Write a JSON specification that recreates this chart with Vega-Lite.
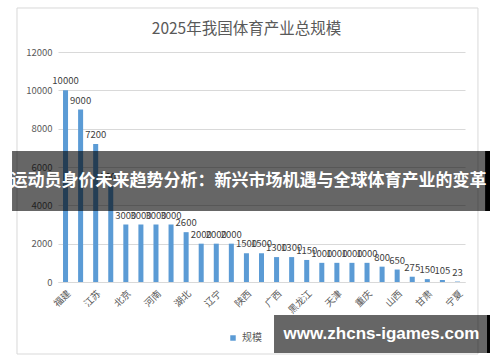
{
  "$schema": "https://vega.github.io/schema/vega-lite/v6.json",
  "width": 407,
  "height": 230,
  "autosize": "none",
  "padding": {"left": 58, "top": 52, "right": 35, "bottom": 80},
  "background": "white",
  "title": {
    "text": "2025年我国体育产业总规模",
    "fontSize": 15.5,
    "fontWeight": "normal",
    "color": "#595959",
    "font": "Noto Sans CJK SC",
    "dx": -15,
    "offset": -30
  },
  "config": {
    "view": {"stroke": null},
    "font": "Noto Sans CJK SC"
  },
  "resolve": {"scale": {"x": "independent", "y": "independent", "color": "independent"}},
  "layer": [
    {
      "data": {"values": [
        {"province": "福建", "value": 10000},
        {"province": "广东", "value": 9000},
        {"province": "江苏", "value": 7200},
        {"province": "浙江", "value": 5000},
        {"province": "北京", "value": 3000},
        {"province": "上海", "value": 3000},
        {"province": "河南", "value": 3000},
        {"province": "山东", "value": 3000},
        {"province": "湖北", "value": 2600},
        {"province": "四川", "value": 2000},
        {"province": "辽宁", "value": 2000},
        {"province": "湖南", "value": 2000},
        {"province": "陕西", "value": 1500},
        {"province": "安徽", "value": 1500},
        {"province": "广西", "value": 1300},
        {"province": "河北", "value": 1300},
        {"province": "黑龙江", "value": 1150},
        {"province": "江西", "value": 1000},
        {"province": "天津", "value": 1000},
        {"province": "吉林", "value": 1000},
        {"province": "重庆", "value": 1000},
        {"province": "云南", "value": 800},
        {"province": "山西", "value": 650},
        {"province": "贵州", "value": 275},
        {"province": "甘肃", "value": 150},
        {"province": "新疆", "value": 105},
        {"province": "宁夏", "value": 23}
      ]},
      "encoding": {
        "x": {
          "field": "province", "type": "nominal", "sort": null,
          "scale": {"paddingInner": 0.667, "paddingOuter": 0.333},
          "axis": {
            "title": null, "labelAngle": -45, "labelFontSize": 9.5, "labelColor": "#595959",
            "ticks": false, "domainColor": "#d9d9d9", "labelPadding": 6,
            "labelExpr": "indexof(['福建','江苏','北京','河南','湖北','辽宁','陕西','广西','黑龙江','天津','重庆','山西','甘肃','宁夏'], datum.value) >= 0 ? datum.label : ''"
          }
        },
        "y": {
          "field": "value", "type": "quantitative",
          "scale": {"domain": [0, 12000], "nice": false},
          "axis": {
            "title": null, "values": [0, 2000, 4000, 6000, 8000, 10000, 12000],
            "labelFontSize": 9.5, "labelColor": "#595959", "ticks": false, "domain": false,
            "gridColor": "#d9d9d9", "labelPadding": 6, "format": "d"
          }
        }
      },
      "layer": [
        {
          "mark": {"type": "bar", "color": "#5b9bd5"},
          "encoding": {
            "color": {
              "datum": "规模", "type": "nominal",
              "scale": {"range": ["#5b9bd5"]},
              "legend": {
                "title": null, "orient": "none", "legendX": 170, "legendY": 281,
                "direction": "horizontal", "symbolType": "square", "symbolSize": 30,
                "labelFontSize": 10, "labelColor": "#595959"
              }
            }
          }
        },
        {
          "mark": {"type": "text", "baseline": "bottom", "dy": -4, "fontSize": 9.5, "color": "#404040"},
          "encoding": {"text": {"field": "value", "type": "quantitative", "format": "d"}}
        }
      ]
    },
    {
      "data": {"values": [{"label": "运动员身价未来趋势分析：新兴市场机遇与全球体育产业的变革", "site": "www.zhcns-igames.com"}]},
      "layer": [
        {
          "mark": {"type": "rect", "fill": null, "stroke": "#d9d9d9", "strokeWidth": 1},
          "encoding": {
            "x": {"datum": -2.72, "type": "quantitative", "scale": {"domain": [0, 27], "nice": false, "zero": false}, "axis": null},
            "x2": {"datum": 27.86},
            "y": {"datum": 14296, "type": "quantitative", "scale": {"domain": [0, 12000], "nice": false, "zero": false}, "axis": null},
            "y2": {"datum": -3757}
          }
        },
        {
          "mark": {"type": "rect", "fill": "black", "opacity": 0.6},
          "encoding": {
            "x": {"datum": -3.05, "type": "quantitative"},
            "x2": {"datum": 28.33},
            "y": {"datum": 6835, "type": "quantitative"},
            "y2": {"datum": 3704}
          }
        },
        {
          "mark": {"type": "rect", "fill": "black"},
          "encoding": {
            "x": {"datum": 28.33, "type": "quantitative"},
            "x2": {"datum": 28.66},
            "y": {"datum": 6835, "type": "quantitative"},
            "y2": {"datum": 3704}
          }
        },
        {
          "mark": {"type": "text", "color": "white", "fontSize": 17, "fontWeight": "bold", "align": "center", "baseline": "middle", "font": "Noto Sans CJK SC"},
          "encoding": {
            "x": {"datum": 12.64, "type": "quantitative"},
            "y": {"datum": 5270, "type": "quantitative"},
            "text": {"field": "label"}
          }
        },
        {
          "mark": {"type": "rect", "fill": "black", "opacity": 0.6},
          "encoding": {
            "x": {"datum": 14.33, "type": "quantitative"},
            "x2": {"datum": 28.46},
            "y": {"datum": -1722, "type": "quantitative"},
            "y2": {"datum": -3704}
          }
        },
        {
          "mark": {"type": "rect", "fill": "black"},
          "encoding": {
            "x": {"datum": 28.46, "type": "quantitative"},
            "x2": {"datum": 28.66},
            "y": {"datum": -1722, "type": "quantitative"},
            "y2": {"datum": -3704}
          }
        },
        {
          "mark": {"type": "text", "color": "white", "fontSize": 17, "fontWeight": "bold", "align": "center", "baseline": "middle", "font": "Liberation Sans"},
          "encoding": {
            "x": {"datum": 21.46, "type": "quantitative"},
            "y": {"datum": -2713, "type": "quantitative"},
            "text": {"field": "site"}
          }
        }
      ]
    }
  ]
}
